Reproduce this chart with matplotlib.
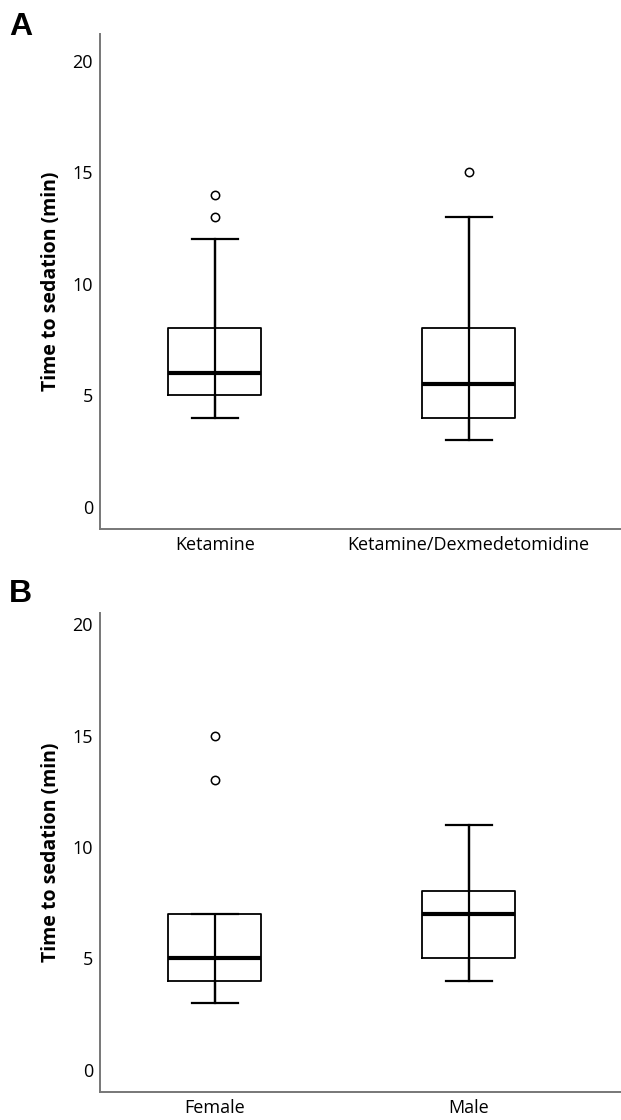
import matplotlib.pyplot as plt

plt.rcParams['font.family'] = ['Open Sans', 'DejaVu Sans']

# Panel A: treatment groups
groups_a = ['Ketamine', 'Ketamine/Dexmedetomidine']
whislo_a = [4, 3]
q1_a = [5, 4]
med_a = [6, 5.5]
q3_a = [8, 8]
whishi_a = [12, 13]
fliers_a = [[13, 14], [15]]

# Panel B: sex
groups_b = ['Female', 'Male']
whislo_b = [3, 4]
q1_b = [4, 5]
med_b = [5, 7]
q3_b = [7, 8]
whishi_b = [7, 11]
fliers_b = [[13, 15], []]

yticks = [0, 5, 10, 15, 20]


def make_stats(labels, lo, q1, med, q3, hi, fl):
    return [dict(label=l, whislo=a, q1=b, med=c, q3=d, whishi=e, fliers=f)
            for l, a, b, c, d, e, f in zip(labels, lo, q1, med, q3, hi, fl)]


def draw(ax, stats, ytop, letter, letter_y):
    pos = list(range(len(stats)))
    # SPSS style: whisker line runs straight through the box
    ax.vlines(pos, [s['whislo'] for s in stats], [s['whishi'] for s in stats],
              color='black', linewidth=1.6, zorder=1)
    ax.bxp(stats, positions=pos, widths=0.366,
           showfliers=True, patch_artist=False,
           boxprops=dict(color='black', linewidth=1.3),
           whiskerprops=dict(color='black', linewidth=1.6),
           capprops=dict(color='black', linewidth=1.6),
           medianprops=dict(color='black', linewidth=3),
           capwidths=0.18,
           flierprops=dict(marker='o', markersize=6, markerfacecolor='white',
                           markeredgecolor='black', markeredgewidth=1.1))
    ax.set_xlim(-0.4516, 1.599)
    ax.set_ylim(-1, ytop)
    ax.set_yticks(yticks)
    ax.set_xticks(pos)
    ax.set_xticklabels([s['label'] for s in stats])
    for s in ['top', 'right']:
        ax.spines[s].set_visible(False)
    for s in ['left', 'bottom']:
        ax.spines[s].set_color('#777777')
        ax.spines[s].set_linewidth(1.4)
    ax.tick_params(length=0, labelsize=13, pad=5)
    ax.set_ylabel('Time to sedation (min)', fontsize=14, fontweight='bold', labelpad=8)
    ax.text(-0.175, letter_y, letter, transform=ax.transAxes, fontsize=23,
            fontweight='bold', family=['Liberation Sans', 'DejaVu Sans'],
            ha='left', va='top')


fig = plt.figure(figsize=(6.21, 11.2), dpi=100)
ax_a = fig.add_axes([0.161, 0.5277, 0.839, 0.4419])
ax_b = fig.add_axes([0.161, 0.025, 0.839, 0.4277])

draw(ax_a, make_stats(groups_a, whislo_a, q1_a, med_a, q3_a, whishi_a, fliers_a), 21.2, 'A', 1.045)
draw(ax_b, make_stats(groups_b, whislo_b, q1_b, med_b, q3_b, whishi_b, fliers_b), 20.5, 'B', 1.07)

fig.savefig('out.png', dpi=100)
